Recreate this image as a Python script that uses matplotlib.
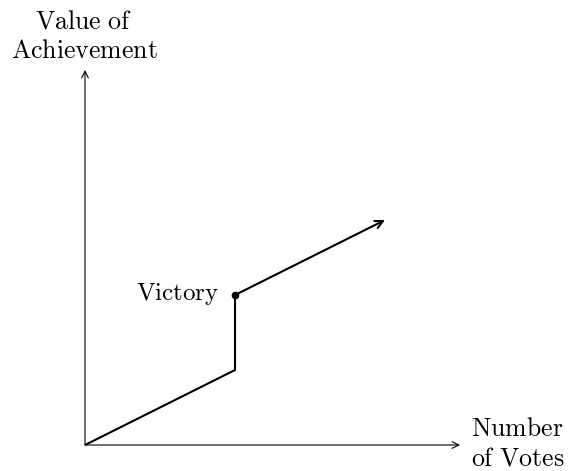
import matplotlib
matplotlib.use("Agg")
import matplotlib.pyplot as plt

plt.rcParams['mathtext.fontset'] = 'cm'

# data (votes, value)
votes = [0, 2, 2]
value = [0, 1, 2]
tail_start = (2, 2)
tail_end = (4, 3)
victory_point = (2, 2)
axis_max = 5

fig = plt.figure(figsize=(5.68, 4.71), dpi=100)
ax = fig.add_axes([0, 0, 1, 1])
sx = 75.0
ax.set_xlim(-85 / sx, (568 - 85) / sx)
ax.set_ylim((445 - 471) / sx, 445 / sx)
ax.axis('off')

def px(x):
    return (x - 85) / sx

def py(y):
    return (445 - y) / sx

# axes
ax.annotate('', xy=(axis_max, 0), xytext=(0, 0),
            arrowprops=dict(arrowstyle='->', lw=0.8, color='black', shrinkA=0, shrinkB=0,
                            mutation_scale=12))
ax.annotate('', xy=(0, axis_max), xytext=(0, 0),
            arrowprops=dict(arrowstyle='->', lw=0.8, color='black', shrinkA=0, shrinkB=0,
                            mutation_scale=12))

# curve
ax.plot(votes, value, color='black', lw=1.5, solid_capstyle='butt', solid_joinstyle='miter')
ax.annotate('', xy=tail_end, xytext=tail_start,
            arrowprops=dict(arrowstyle='->', lw=1.5, color='black', shrinkA=0, shrinkB=0,
                            mutation_scale=14))
ax.plot([victory_point[0]], [victory_point[1]], 'o', color='black', ms=4.5)

fs = 18.6
ax.text(px(219), py(300), r'$\mathrm{Victory}$', ha='right', va='baseline', fontsize=18)

ax.text(px(84), py(28), r'$\mathrm{Value\ of}$', ha='center', va='baseline', fontsize=fs)
ax.text(px(84), py(58), r'$\mathrm{Achievement}$', ha='center', va='baseline', fontsize=fs)

ax.text(px(471), py(436), r'$\mathrm{Number}$', ha='left', va='baseline', fontsize=fs)
ax.text(px(471), py(465), r'$\mathrm{of\ Votes}$', ha='left', va='baseline', fontsize=fs)

fig.savefig('out.png', dpi=100)
